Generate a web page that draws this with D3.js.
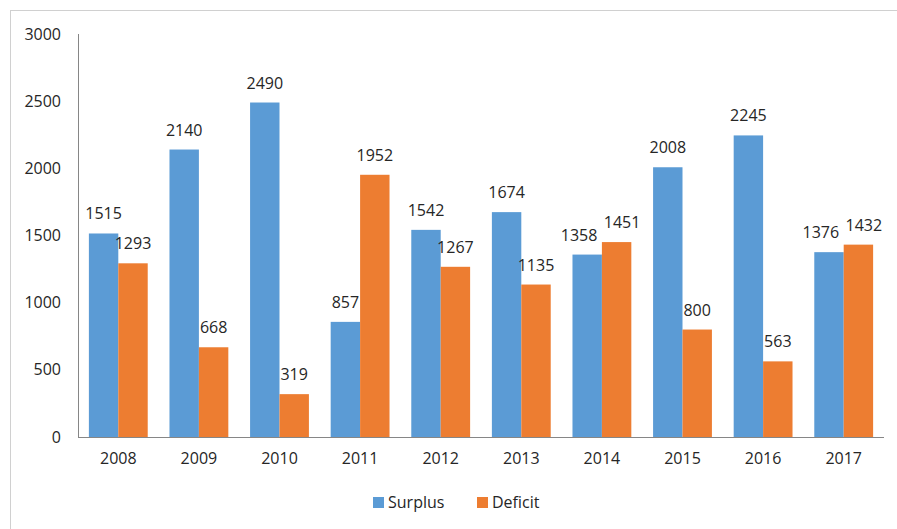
<!DOCTYPE html>
<html><head><meta charset="utf-8">
<script src="https://cdn.jsdelivr.net/npm/d3@7"></script>
<style>body{margin:0;background:#fff}svg{display:block}text{font-family:"Open Sans",sans-serif;fill:#262626}</style>
</head><body>
<script>
const years = ["2008","2009","2010","2011","2012","2013","2014","2015","2016","2017"];
const surplus = [1515,2140,2490,857,1542,1674,1358,2008,2245,1376];
const deficit = [1293,668,319,1952,1267,1135,1451,800,563,1432];
const seriesNames = ["Surplus","Deficit"];
const colors = ["#5B9BD5","#ED7D31"];
const yTicks = [0,500,1000,1500,2000,2500,3000];

(function(){
const W=897,H=529;
const svg=d3.select("body").append("svg").attr("width",W).attr("height",H);
svg.append("rect").attr("x",10.5).attr("y",10.5).attr("width",1000).attr("height",1000)
  .attr("fill","none").attr("stroke","#d0d0d0");

const pl=78,pr=884,pt=34,pb=437;
const x=d3.scaleBand().domain(years).range([pl,pr]).paddingInner(0.27).paddingOuter(0.135);
const y=d3.scaleLinear().domain([0,3000]).range([pb,pt]);
const x1=d3.scaleBand().domain(seriesNames).range([0,x.bandwidth()]);

const data=years.map((yr,i)=>({yr,vals:[surplus[i],deficit[i]]}));
const g=svg.append("g");
data.forEach(d=>{
  const labs=d.vals.map((v,j)=>({v,cx:x(d.yr)+x1(seriesNames[j])+x1.bandwidth()/2,ly:y(v)-14}));
  // simple collision avoidance between the two labels of a group
  if(Math.abs(labs[0].ly-labs[1].ly)<16){
    const need=43-(labs[1].cx-labs[0].cx);
    if(need>0){labs[0].cx-=need*0.6;labs[1].cx+=need*0.4;}
  }
  d.vals.forEach((v,j)=>{
    g.append("rect").attr("x",x(d.yr)+x1(seriesNames[j])).attr("y",y(v))
     .attr("width",x1.bandwidth()).attr("height",y(0)-y(v)).attr("fill",colors[j]);
  });
  labs.forEach(l=>{
    g.append("text").attr("x",l.cx).attr("y",l.ly)
     .attr("text-anchor","middle").attr("font-size","16px").text(l.v);
  });
});

const ya=svg.append("g").attr("transform",`translate(${pl},0)`)
  .call(d3.axisLeft(y).tickValues(yTicks).tickSize(0).tickPadding(17).tickFormat(d3.format("d")));
ya.select(".domain").attr("stroke","#868686").attr("d",`M0.5,${pt}V${pb}`);
ya.selectAll("text").attr("font-size","16px").attr("fill","#262626").attr("font-family","Open Sans");

const xa=svg.append("g").attr("transform",`translate(0,${pb})`)
  .call(d3.axisBottom(x).tickSize(0).tickPadding(16));
xa.select(".domain").attr("stroke","#868686").attr("d",`M${pl},0.5H${pr}`);
xa.selectAll("text").attr("font-size","16px").attr("fill","#262626").attr("font-family","Open Sans");

const leg=[{n:"Surplus",x:373},{n:"Deficit",x:477}];
leg.forEach((l,i)=>{
  svg.append("rect").attr("x",l.x).attr("y",497).attr("width",11).attr("height",11).attr("fill",colors[i]);
  svg.append("text").attr("x",l.x+15).attr("y",508).attr("font-size","16px").text(l.n);
});
})();
</script>
</body></html>
